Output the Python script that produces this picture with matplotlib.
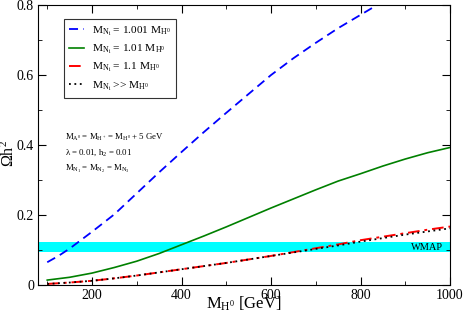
import numpy as np
import matplotlib
matplotlib.use('Agg')
import matplotlib.pyplot as plt
from matplotlib.ticker import MultipleLocator, FuncFormatter

plt.rcParams['font.family'] = ['Liberation Serif', 'DejaVu Serif']
plt.rcParams['mathtext.fontset'] = 'custom'
plt.rcParams['mathtext.rm'] = 'Liberation Serif'
plt.rcParams['mathtext.it'] = 'Liberation Serif'
plt.rcParams['mathtext.bf'] = 'Liberation Serif:bold'

# M_H0 [GeV] and Omega h^2
mass_blue = [100, 125, 150, 200, 250, 300, 350, 400, 450, 500, 550, 600, 650, 700, 750, 800, 850]
omega_blue = [0.065, 0.083, 0.104, 0.152, 0.202, 0.262, 0.322, 0.380, 0.437, 0.492,
              0.546, 0.600, 0.648, 0.692, 0.734, 0.772, 0.810]

mass = [100, 150, 200, 250, 300, 350, 400, 450, 500, 550, 600, 650, 700, 750, 800, 850, 900, 950, 1000]
omega_green = [0.014, 0.022, 0.034, 0.050, 0.068, 0.090, 0.115, 0.140, 0.166, 0.193,
               0.220, 0.246, 0.272, 0.297, 0.318, 0.340, 0.360, 0.378, 0.393]
omega_red = [0.003, 0.007, 0.012, 0.019, 0.027, 0.036, 0.045, 0.054, 0.063, 0.073,
             0.083, 0.094, 0.105, 0.116, 0.128, 0.138, 0.148, 0.158, 0.167]
omega_black = [0.003, 0.007, 0.012, 0.019, 0.027, 0.036, 0.045, 0.054, 0.063, 0.073,
               0.083, 0.093, 0.103, 0.113, 0.124, 0.134, 0.144, 0.153, 0.162]

wmap_band = (0.095, 0.123)

fig = plt.figure(figsize=(4.63, 3.17), dpi=100)
ax = fig.add_axes([0.0827, 0.101, 0.8893, 0.883])

ax.axhspan(wmap_band[0], wmap_band[1], color='#00ffff', lw=0, zorder=0)
ax.text(985, 0.107, 'WMAP', fontsize=7.5, ha='right', va='center')

ax.plot(mass_blue, omega_blue, color='#0000ff', lw=1.3, dashes=(5, 3),
        label=r'$\mathrm{M_{N_i}}$ = 1.001 $\mathrm{M_{H^0}}$')
ax.plot(mass, omega_green, color='#008000', lw=1.2,
        label=r'$\mathrm{M_{N_i}}$ = 1.01 $\mathrm{M_{H^0}}$')
ax.plot(mass, omega_red, color='#ff0000', lw=1.4, dashes=(6, 2.5, 1.5, 2.5),
        label=r'$\mathrm{M_{N_i}}$ = 1.1 $\mathrm{M_{H^0}}$')
ax.plot(mass, omega_black, color='black', lw=1.3, dashes=(1, 2),
        label=r'$\mathrm{M_{N_i}}$ >> $\mathrm{M_{H^0}}$')

ax.set_xlim(80, 1000)
ax.set_ylim(0, 0.8)
ax.xaxis.set_major_locator(MultipleLocator(200))
ax.xaxis.set_minor_locator(MultipleLocator(100))
ax.yaxis.set_major_locator(MultipleLocator(0.2))
ax.yaxis.set_minor_locator(MultipleLocator(0.1))
ax.yaxis.set_major_formatter(FuncFormatter(lambda v, p: '0' if abs(v) < 1e-9 else '%g' % v))
ax.tick_params(which='both', direction='in', top=True, right=True, labelsize=10, pad=3)
ax.tick_params(which='major', length=6)
ax.tick_params(which='minor', length=3)

ax.set_xlabel(r'$\mathrm{M_{H^0}}$ [GeV]', fontsize=12)
ax.xaxis.set_label_coords(0.5, -0.036)
ax.set_ylabel(r'$\Omega\mathrm{h}^2$', fontsize=11.5)
ax.yaxis.set_label_coords(-0.05, 0.47)

leg = ax.legend(loc='upper left', bbox_to_anchor=(0.062, 0.95), borderaxespad=0,
                fontsize=8.2, frameon=True, fancybox=False, edgecolor='black',
                handlelength=1.3, borderpad=0.45, labelspacing=0.42, handletextpad=0.7)
leg.get_frame().set_linewidth(0.8)

ax.text(0.065, 0.529, r'$\mathrm{M_{A^0}}$ = $\mathrm{M_{H^+}}$ = $\mathrm{M_{H^0}}$ + 5 GeV',
        transform=ax.transAxes, fontsize=6.3, va='center')
ax.text(0.065, 0.471, r'$\lambda$ = 0.01, $\mathrm{h_2}$ = 0.01',
        transform=ax.transAxes, fontsize=6.3, va='center')
ax.text(0.065, 0.416, r'$\mathrm{M_{N_1}}$ = $\mathrm{M_{N_2}}$ = $\mathrm{M_{N_3}}$',
        transform=ax.transAxes, fontsize=6.3, va='center')

fig.savefig('out.png', dpi=100)
